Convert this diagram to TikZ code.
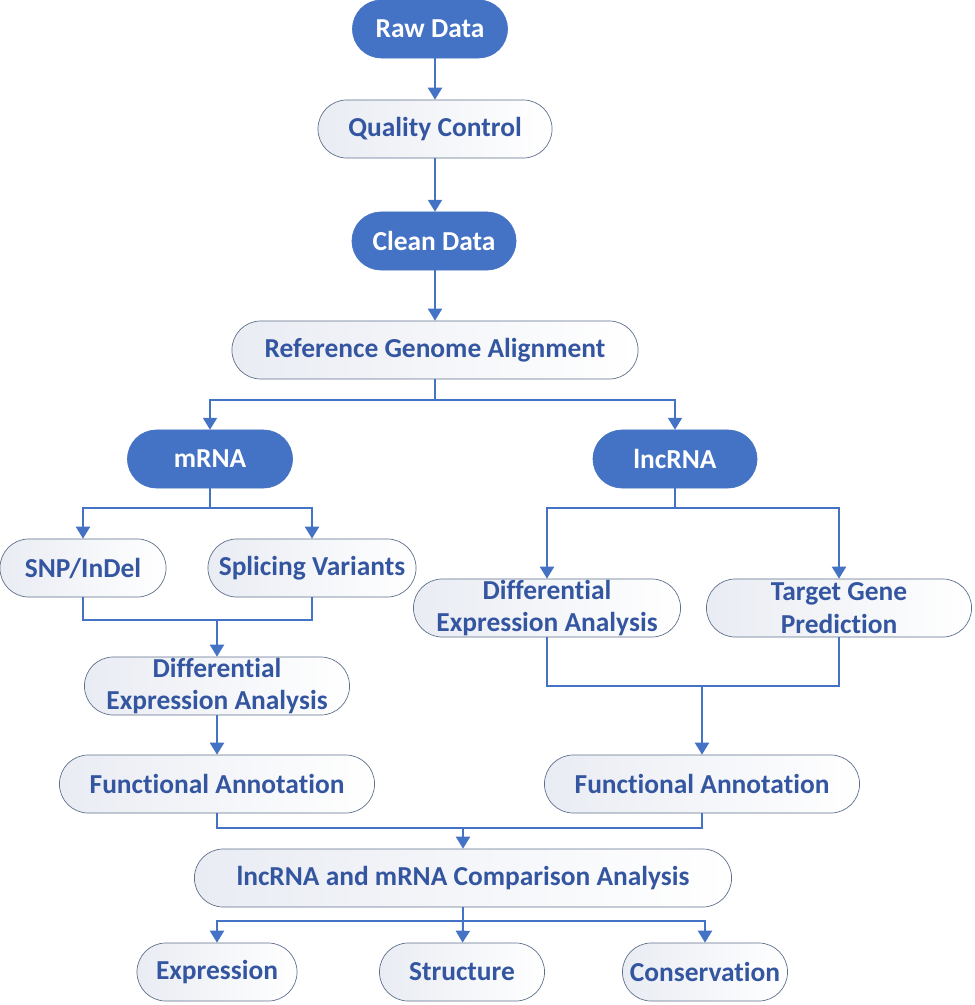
\documentclass[tikz,border=0pt]{standalone}
\usepackage{fontspec}
\setmainfont{Carlito}[Ligatures=NoCommon]
\usetikzlibrary{arrows.meta,calc}
\definecolor{mainblue}{RGB}{68,114,196}
\definecolor{textblue}{RGB}{52,86,160}
\definecolor{edgegray}{RGB}{95,112,140}
\definecolor{shadegray}{RGB}{233,236,243}
\begin{document}
\begin{tikzpicture}[x=0.025cm,y=-0.025cm,
  box/.style={rectangle,rounded corners=0.72cm,minimum height=1.45cm,inner sep=0pt,align=center,
    font=\fontsize{19.5}{23.4}\selectfont\bfseries},
  dark/.style={box,fill=mainblue,draw=mainblue,text=white},
  light/.style={box,draw=edgegray,line width=0.5pt,text=textblue,left color=shadegray,right color=white},
  line/.style={draw=mainblue,line width=1.4pt},
  arr/.style={line,-{Triangle[width=10pt,length=8.5pt]}}]
\useasboundingbox (0,0) rectangle (974,1005);
\node[dark,minimum width=3.875cm]  (raw)   at (430,29)  {Raw Data};
\node[light,minimum width=5.85cm]  (qc)    at (435,129) {Quality Control};
\node[dark,minimum width=4.1cm]    (clean) at (434,241) {Clean Data};
\node[light,minimum width=10.15cm] (rga)   at (435,350) {Reference Genome Alignment};
\node[dark,minimum width=4.125cm]  (mrna)  at (210,459) {mRNA};
\node[dark,minimum width=4.1cm]    (lnc)   at (675,459) {lncRNA};
\node[light,minimum width=4.15cm]  (snp)   at (83,568)  {SNP/InDel};
\node[light,minimum width=5.2cm]   (spl)   at (312,568) {Splicing Variants};
\node[light,minimum width=6.625cm] (dea1)  at (217,686) {Differential\\Expression Analysis};
\node[light,minimum width=6.675cm] (dea2)  at (547,608) {Differential\\Expression Analysis};
\node[light,minimum width=6.625cm] (tgp)   at (839,608) {Target Gene\\Prediction};
\node[light,minimum width=7.875cm] (fa1)   at (217,784) {Functional Annotation};
\node[light,minimum width=7.875cm] (fa2)   at (702,784) {Functional Annotation};
\node[light,minimum width=13.425cm](cmp)   at (463,878) {lncRNA and mRNA Comparison Analysis};
\node[light,minimum width=4cm]     (expr)  at (217,972) {Expression};
\node[light,minimum width=4.125cm] (struc) at (462,972) {Structure};
\node[light,minimum width=4.125cm] (cons)  at (705,972) {Conservation};
\coordinate (j0) at (435,400);
\coordinate (j1) at (217,620);
\coordinate (j2) at (702,686);
\coordinate (j3) at (463,828);
\coordinate (j4) at (463,921);
\coordinate (s1) at (210,508);
\coordinate (s2) at (675,508);
\draw[arr] (raw.south -| qc) -- (qc);
\draw[arr] (qc) -- (clean.north -| qc);
\draw[arr] (clean.south -| qc) -- (rga);
\draw[line] (rga) -- (j0);
\draw[arr] (j0) -| (mrna.north);
\draw[arr] (j0) -| (lnc.north);
\draw[line] (mrna) -- (s1);
\draw[arr] (s1) -| (snp.north);
\draw[arr] (s1) -| (spl.north);
\draw[line] (snp.south) |- (j1) -| (spl.south);
\draw[arr] (j1) -- (dea1);
\draw[arr] (dea1) -- (fa1);
\draw[line] (lnc) -- (s2);
\draw[arr] (s2) -| (dea2.north);
\draw[arr] (s2) -| (tgp.north);
\draw[line] (dea2.south) |- (j2) -| (tgp.south);
\draw[arr] (j2) -- (fa2);
\draw[line] (fa1.south) |- (j3) -| (fa2.south);
\draw[arr] (j3) -- (cmp);
\draw[line] (cmp) -- (j4);
\draw[arr] (j4) -| (expr.north);
\draw[arr] (j4) -- (struc);
\draw[arr] (j4) -| (cons.north);
\end{tikzpicture}
\end{document}
